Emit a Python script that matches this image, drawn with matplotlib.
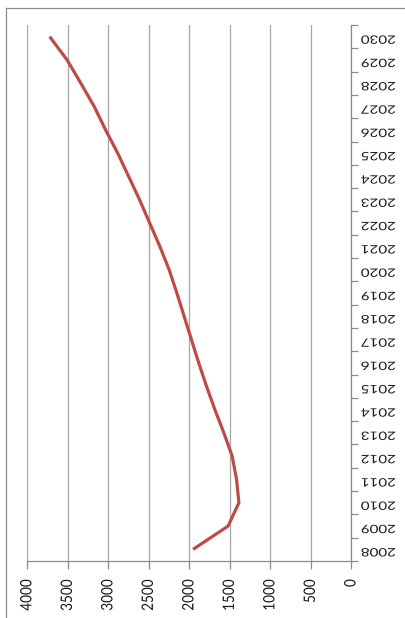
import matplotlib
matplotlib.use("Agg")
import matplotlib.pyplot as plt
from matplotlib.lines import Line2D
from matplotlib.patheffects import AbstractPathEffect
from matplotlib.transforms import Affine2D
import numpy as np

years = list(range(2008, 2031))
values = [1950, 1517, 1384, 1413, 1467, 1570, 1681, 1784, 1880, 1970, 2060,
          2150, 2245, 2360, 2485, 2610, 2745, 2880, 3030, 3170, 3335, 3505, 3720]
value_ticks = [0, 500, 1000, 1500, 2000, 2500, 3000, 3500, 4000]


class Stretch(AbstractPathEffect):
    """Scale the drawn glyphs anisotropically around an anchor of their extent."""

    def __init__(self, sx, sy, hanchor="center", vanchor="center"):
        super().__init__()
        self.sx, self.sy = sx, sy
        self.hanchor, self.vanchor = hanchor, vanchor

    def draw_path(self, renderer, gc, tpath, affine, rgbFace=None):
        bb = tpath.get_extents(affine)
        cx = {"left": bb.x0, "center": 0.5 * (bb.x0 + bb.x1), "right": bb.x1}[self.hanchor]
        cy = {"bottom": bb.y0, "center": 0.5 * (bb.y0 + bb.y1), "top": bb.y1}[self.vanchor]
        t = affine + Affine2D().translate(-cx, -cy).scale(self.sx, self.sy).translate(cx, cy)
        renderer.draw_path(gc, tpath, t, rgbFace)


W, H = 405, 618
fig = plt.figure(figsize=(W / 100, H / 100), dpi=100)
fig.patch.set_facecolor("white")

# chart border
fig.add_artist(Line2D([5.5 / W, 5.5 / W], [0, 1 - 8 / H], transform=fig.transFigure,
                      color="#8c8c8c", lw=0.9))
fig.add_artist(Line2D([5.5 / W, 1], [1 - 8 / H, 1 - 8 / H], transform=fig.transFigure,
                      color="#8c8c8c", lw=0.9))

left, right = 27 / W, 351 / W
top, bottom = 1 - 25 / H, 1 - 561 / H
ax = fig.add_axes([left, bottom, right - left, top - bottom])

ax.plot(values, years, color="#BE4B48", lw=2.3, solid_capstyle="butt", zorder=3)

ax.set_xlim(4000, 0)
ax.set_ylim(2007.5, 2030.5)

ax.set_xticks(value_ticks)
xl = ax.set_xticklabels([str(v) for v in value_ticks], rotation=90, fontsize=10.5,
                        family="Lato", color="#1a1a1a")
for t in xl:
    t.set_path_effects([Stretch(1.08, 0.93, "center", "top")])
ax.tick_params(axis="x", direction="out", length=6, width=0.9, color="#8c8c8c", pad=7)
ax.grid(axis="x", color="#a6a6a6", lw=0.9)
ax.set_axisbelow(True)

ax.yaxis.tick_right()
ax.set_yticks(np.arange(2007.5, 2031, 1.0))
ax.set_yticklabels([])
ax.set_yticks(years, minor=True)
yl = ax.set_yticklabels([str(y) for y in years], minor=True, rotation=180, fontsize=11,
                        family="Lato", color="#1a1a1a")
for t in yl:
    t.set_path_effects([Stretch(0.99, 0.76, "left", "center")])
ax.tick_params(axis="y", which="major", direction="out", length=5, width=0.9,
               color="#8c8c8c")
ax.tick_params(axis="y", which="minor", length=0, pad=7)

for s in ["top", "left"]:
    ax.spines[s].set_visible(False)
for s in ["right", "bottom"]:
    ax.spines[s].set_color("#8c8c8c")
    ax.spines[s].set_linewidth(0.9)

fig.savefig("out.png", dpi=100)
